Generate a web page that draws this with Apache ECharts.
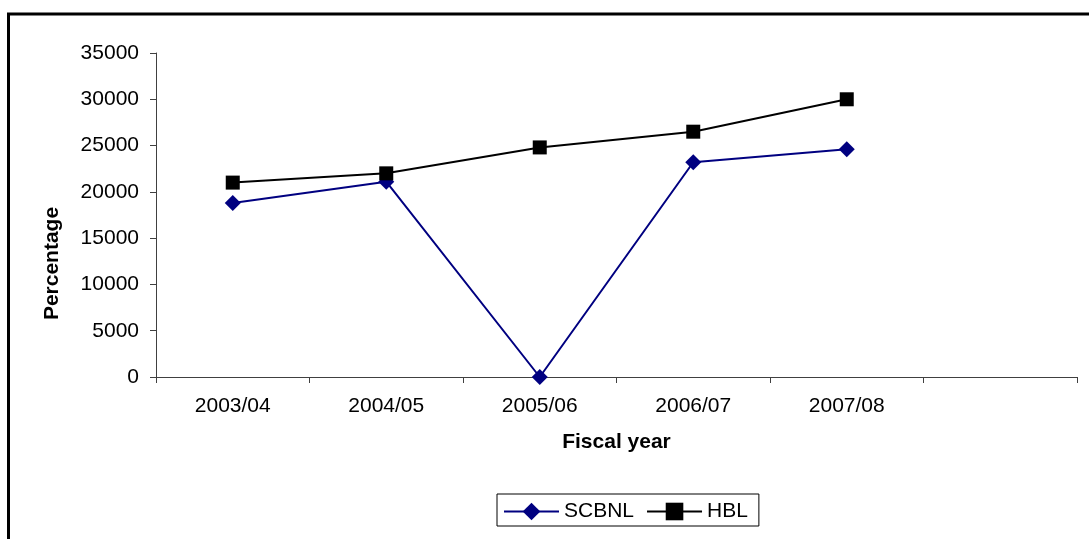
<!DOCTYPE html>
<html>
<head>
<meta charset="utf-8">
<script src="https://cdn.jsdelivr.net/npm/echarts@6/dist/echarts.min.js"></script>
<style>
  html, body { margin: 0; padding: 0; background: #fff; }
  #chart { width: 1089px; height: 539px; }
</style>
</head>
<body>
<div id="chart"></div>
<script>
// Fiscal years (last slot left empty so the axis runs one category further)
const categories = ['2003/04', '2004/05', '2005/06', '2006/07', '2007/08', ''];
const scbnl = [18800, 21100, 0, 23200, 24600];
const hbl = [21000, 22000, 24800, 26500, 30000];
const yTicks = { min: 0, max: 35000, interval: 5000 };

const FONT = 'Liberation Sans, Arial, sans-serif';
const AXIS_COLOR = '#404040';

const chart = echarts.init(document.getElementById('chart'), null, { renderer: 'canvas' });

chart.setOption({
  animation: false,
  backgroundColor: '#fff',
  textStyle: { fontFamily: FONT },
  graphic: [{
    type: 'rect',
    shape: { x: 8.5, y: 14, width: 1200, height: 700 },
    style: { fill: 'none', stroke: '#000', lineWidth: 3 },
    silent: true
  }],
  grid: { left: 156, right: 12, top: 53, bottom: 162 },
  legend: {
    left: 497,
    top: 494,
    orient: 'horizontal',
    itemWidth: 55,
    itemHeight: 22,
    itemGap: 12,
    padding: [7, 11, 4, 6],
    borderColor: '#000',
    borderWidth: 1,
    textStyle: { fontSize: 21, color: '#000', fontFamily: FONT },
    data: ['SCBNL', 'HBL']
  },
  xAxis: {
    type: 'category',
    data: categories,
    boundaryGap: true,
    name: 'Fiscal year',
    nameLocation: 'middle',
    nameGap: 55,
    nameTextStyle: { fontSize: 21, fontWeight: 'bold', color: '#000', fontFamily: FONT },
    axisLine: { show: true, lineStyle: { color: AXIS_COLOR, width: 1 } },
    axisTick: { show: true, alignWithLabel: false, length: 6, lineStyle: { color: AXIS_COLOR } },
    axisLabel: { fontSize: 21, color: '#000', margin: 19, interval: 0, fontFamily: FONT },
    splitLine: { show: false }
  },
  yAxis: {
    type: 'value',
    min: yTicks.min,
    max: yTicks.max,
    interval: yTicks.interval,
    name: 'Percentage',
    nameLocation: 'middle',
    nameGap: 93,
    nameRotate: 90,
    nameTextStyle: { fontSize: 21, fontWeight: 'bold', color: '#000', fontFamily: FONT, padding: [0, 97, 0, 0] },
    axisLine: { show: true, lineStyle: { color: AXIS_COLOR, width: 1 } },
    axisTick: { show: true, length: 6, lineStyle: { color: AXIS_COLOR } },
    axisLabel: { fontSize: 21, color: '#000', margin: 17, fontFamily: FONT, formatter: v => String(v) },
    splitLine: { show: false }
  },
  series: [
    {
      name: 'SCBNL',
      type: 'line',
      data: scbnl,
      symbol: 'diamond',
      symbolSize: 16,
      showAllSymbol: true,
      lineStyle: { color: '#000080', width: 2 },
      itemStyle: { color: '#000080' }
    },
    {
      name: 'HBL',
      type: 'line',
      data: hbl,
      symbol: 'rect',
      symbolSize: 14,
      showAllSymbol: true,
      lineStyle: { color: '#000000', width: 2 },
      itemStyle: { color: '#000000' }
    }
  ]
});
</script>
</body>
</html>
